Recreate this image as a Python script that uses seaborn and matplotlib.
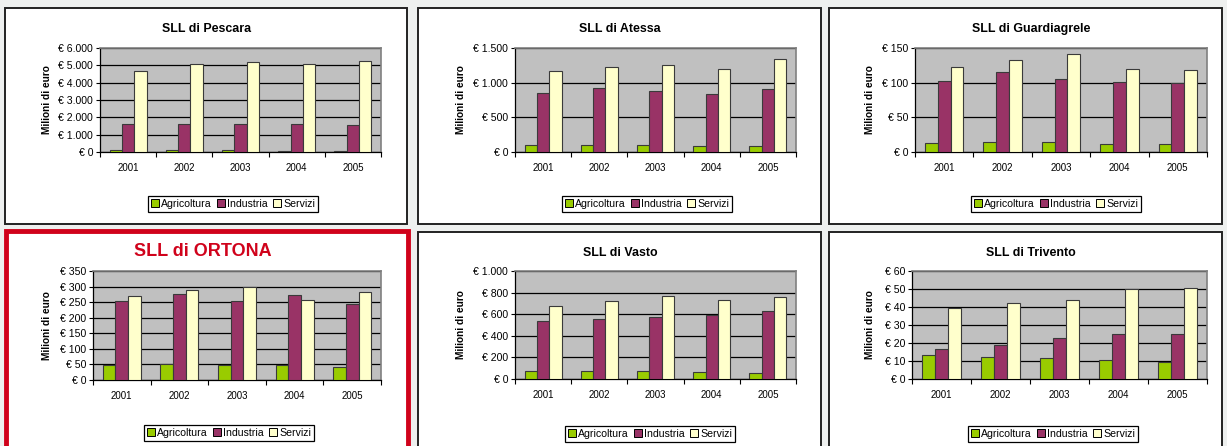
import pandas as pd
import matplotlib
matplotlib.use("Agg")
import matplotlib.pyplot as plt
from matplotlib.patches import Rectangle, Patch
import seaborn as sns

# dati (milioni di euro)
anni = ["2001", "2002", "2003", "2004", "2005"]
settori = ["Agricoltura", "Industria", "Servizi"]

pescara_agri = [130, 130, 125, 80, 80]
pescara_ind = [1600, 1635, 1595, 1595, 1560]
pescara_serv = [4650, 5060, 5190, 5095, 5250]

atessa_agri = [105, 106, 106, 92, 87]
atessa_ind = [856, 919, 880, 832, 909]
atessa_serv = [1171, 1219, 1253, 1200, 1340]

guard_agri = [13.5, 14, 14, 12, 11.5]
guard_ind = [103, 115, 106, 100.5, 100]
guard_serv = [123, 132, 142, 120, 118]

ortona_agri = [48, 50, 47, 48, 41]
ortona_ind = [255, 277, 255, 272, 244]
ortona_serv = [271, 288, 299, 256, 284]

vasto_agri = [74, 77, 74, 65, 58]
vasto_ind = [535, 554, 575, 594, 628]
vasto_serv = [677, 720, 766, 729, 757]

trivento_agri = [13.3, 12.2, 11.9, 10.4, 9.6]
trivento_ind = [16.5, 18.9, 22.6, 25.0, 25.2]
trivento_serv = [39.6, 42.0, 43.7, 49.8, 50.7]

colori = ["#99cc00", "#993366", "#ffffcc"]

W, H = 1227, 446
plt.rcParams['font.family'] = ['Liberation Sans', 'DejaVu Sans']

fig = plt.figure(figsize=(W / 100, H / 100), dpi=100)
fig.patch.set_facecolor("#eef0ef")


def fx(x):
    return x / W


def fy(y):
    return 1 - y / H


def euro(v, pos=None):
    return "€ " + f"{int(v):,}".replace(",", ".")


# (titolo, agri, ind, serv, ymax, passo, cornice, assi, titolo xy, legenda xy, ylabel x, evidenziato)
pannelli = [
    ("SLL di Pescara", pescara_agri, pescara_ind, pescara_serv, 6000, 1000,
     (5, 8, 407, 224), (100, 48, 381, 152), (207, 29), (233, 204), 52, False),
    ("SLL di Atessa", atessa_agri, atessa_ind, atessa_serv, 1500, 500,
     (418, 8, 821, 224), (515, 48, 796, 152), (620, 29), (647, 204), 466, False),
    ("SLL di Guardiagrele", guard_agri, guard_ind, guard_serv, 150, 50,
     (829, 8, 1222, 224), (915, 48, 1207, 152), (1031, 29), (1056, 204), 875, False),
    ("SLL di ORTONA", ortona_agri, ortona_ind, ortona_serv, 350, 50,
     (5.5, 231, 407.5, 452), (93, 271, 381, 380), (203, 252), (229, 433), 52, True),
    ("SLL di Vasto", vasto_agri, vasto_ind, vasto_serv, 1000, 200,
     (418, 232, 821, 452), (515, 271, 796, 379), (620, 253), (650, 434), 466, False),
    ("SLL di Trivento", trivento_agri, trivento_ind, trivento_serv, 60, 10,
     (829, 232, 1222, 452), (912, 271, 1207, 379), (1031, 253), (1053, 434), 875, False),
]

for (titolo, agri, ind, serv, ymax, passo, cornice, assi, txy, lxy, ylx, rosso) in pannelli:
    # cornice del grafico
    x0, y0, x1, y1 = cornice
    fig.patches.append(Rectangle((fx(x0), fy(y1)), fx(x1 - x0), (y1 - y0) / H,
                                 transform=fig.transFigure, facecolor="white",
                                 edgecolor="#d0021b" if rosso else "#222222",
                                 linewidth=3.5 if rosso else 1.4, zorder=-5))

    ax0, ay0, ax1, ay1 = assi
    ax = fig.add_axes([fx(ax0), fy(ay1), fx(ax1 - ax0), (ay1 - ay0) / H])
    ax.set_zorder(2)

    df = pd.DataFrame({
        "anno": anni * 3,
        "settore": [s for s in settori for _ in anni],
        "valore": agri + ind + serv,
    })
    sns.barplot(data=df, x="anno", y="valore", hue="settore", hue_order=settori,
                palette=colori, saturation=1, width=0.66, edgecolor="#3a3a3a",
                linewidth=0.8, legend=False, ax=ax, zorder=3)

    ax.set_facecolor("#c0c0c0")
    ax.set_xlim(-0.5, 4.5)
    ax.set_ylim(0, ymax)
    ax.set_yticks(range(0, ymax + 1, passo))
    ax.yaxis.set_major_formatter(plt.FuncFormatter(euro))
    ax.yaxis.grid(True, color="black", linewidth=0.9, zorder=1)
    ax.set_axisbelow(True)
    ax.set_xticks([i - 0.5 for i in range(6)], minor=True)
    ax.tick_params(axis="x", which="major", length=0, labelsize=7, pad=8)
    ax.tick_params(axis="x", which="minor", length=3.5, width=0.8, direction="out")
    ax.tick_params(axis="y", length=3, width=0.8, labelsize=7.6, pad=2)
    for s in ["top", "right"]:
        ax.spines[s].set_color("#808080")
        ax.spines[s].set_linewidth(1.2)
    for s in ["left", "bottom"]:
        ax.spines[s].set_color("black")
        ax.spines[s].set_linewidth(0.9)
    ax.set_xlabel("")
    ax.set_ylabel("Milioni di euro", fontsize=7.3, fontweight="bold")
    ax.yaxis.set_label_coords((ylx - ax0) / (ax1 - ax0), 0.5)

    if rosso:
        fig.text(fx(txy[0]), fy(txy[1]), titolo, ha="center", va="center",
                 fontsize=13, fontweight="bold", color="#d0021b")
    else:
        fig.text(fx(txy[0]), fy(txy[1]), titolo, ha="center", va="center",
                 fontsize=8.9, fontweight="bold")

    handles = [Patch(facecolor=c, edgecolor="black", linewidth=0.7) for c in colori]
    ax.legend(handles, settori, loc="center", bbox_to_anchor=(fx(lxy[0]), fy(lxy[1])),
              bbox_transform=fig.transFigure, ncol=3, fontsize=7.6, frameon=True,
              fancybox=False, framealpha=1, edgecolor="black", handlelength=0.75,
              handleheight=0.75, handletextpad=0.2, columnspacing=0.5, borderpad=0.3,
              borderaxespad=0)
    ax.get_legend().get_frame().set_linewidth(0.9)

fig.savefig("out.png", dpi=100, facecolor=fig.get_facecolor())
